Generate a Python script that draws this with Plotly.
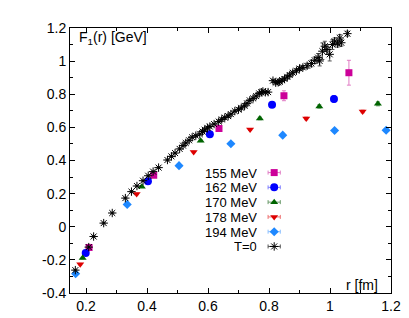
import plotly.graph_objects as go

# ---------------- data ----------------
r155 = [0.210, 0.422, 0.636, 0.849, 1.062]
f155 = [-0.125, 0.311, 0.593, 0.791, 0.930]
e155 = [0.010, 0.010, 0.012, 0.030, 0.075]

r162 = [0.199, 0.403, 0.606, 0.810, 1.013]
f162 = [-0.159, 0.275, 0.559, 0.736, 0.772]
e162 = [0.005, 0.006, 0.008, 0.010, 0.020]

r170 = [0.189, 0.383, 0.576, 0.770, 0.965, 1.157]
f170 = [-0.189, 0.242, 0.519, 0.654, 0.726, 0.742]
e170 = [0.005, 0.005, 0.005, 0.008, 0.010, 0.012]

r178 = [0.181, 0.366, 0.553, 0.738, 0.922, 1.107]
f178 = [-0.226, 0.198, 0.452, 0.587, 0.654, 0.696]
e178 = [0.005, 0.005, 0.005, 0.006, 0.008, 0.008]

r194 = [0.166, 0.335, 0.505, 0.675, 0.845, 1.015, 1.184]
f194 = [-0.284, 0.135, 0.369, 0.501, 0.553, 0.581, 0.583]
e194 = [0.005, 0.005, 0.005, 0.005, 0.006, 0.008, 0.008]

r0 = [0.165, 0.209, 0.225, 0.258, 0.286, 0.329, 0.349, 0.367, 0.387, 0.404,
      0.420, 0.438, 0.467, 0.480, 0.492, 0.507, 0.518, 0.527, 0.538, 0.548,
      0.560, 0.573, 0.582, 0.589, 0.598, 0.606, 0.620, 0.635, 0.645, 0.655,
      0.666, 0.675, 0.688, 0.700, 0.709, 0.720, 0.728, 0.737, 0.748, 0.758,
      0.768, 0.775, 0.780, 0.788, 0.797, 0.813, 0.822, 0.830, 0.835, 0.843,
      0.851, 0.860, 0.868, 0.878, 0.890, 0.900, 0.911, 0.925, 0.939, 0.950,
      0.961, 0.966, 0.975, 0.983, 0.990, 0.999, 1.008, 1.015, 1.025, 1.032,
      1.037, 1.057]
f0 = [-0.262, -0.123, -0.059, 0.022, 0.083, 0.173, 0.212, 0.246, 0.278, 0.308,
      0.333, 0.357, 0.403, 0.425, 0.445, 0.470, 0.490, 0.506, 0.522, 0.540,
      0.550, 0.559, 0.575, 0.585, 0.597, 0.605, 0.620, 0.635, 0.648, 0.659,
      0.668, 0.680, 0.698, 0.707, 0.718, 0.730, 0.745, 0.763, 0.775, 0.789,
      0.805, 0.812, 0.817, 0.812, 0.813, 0.882, 0.870, 0.872, 0.876, 0.885,
      0.892, 0.905, 0.916, 0.930, 0.942, 0.955, 0.962, 0.972, 0.986, 1.005,
      1.021, 1.001, 1.060, 1.090, 1.070, 1.041, 1.100, 1.120, 1.105, 1.140,
      1.111, 1.166]
e0 = [0.004] * 45 + [0.008] * 10 + [0.012, 0.012, 0.015, 0.02, 0.02,
                                      0.025, 0.03, 0.05, 0.03, 0.03, 0.04, 0.03,
                                      0.02, 0.02, 0.02, 0.02, 0.015]

labels = ["155 MeV", "162 MeV", "170 MeV", "178 MeV", "194 MeV", "T=0"]
x_ticks = [0.2, 0.4, 0.6, 0.8, 1, 1.2]
y_ticks = [-0.4, -0.2, 0, 0.2, 0.4, 0.6, 0.8, 1, 1.2]

# ---------------- styles ----------------
colors = ["#cc0099", "#0000ff", "#006400", "#dd0000", "#1e88ff", "#000000"]
err_colors = ["#e07cc4", "#8080ff", "#6a9a6a", "#ee7070", "#8cc0ff", "#555555"]
symbols = ["square", "circle", "triangle-up", "triangle-down", "diamond", "asterisk-open"]
sizes = [7, 8, 7, 7, 7, 7]

series = [(r155, f155, e155), (r162, f162, e162), (r170, f170, e170),
          (r178, f178, e178), (r194, f194, e194), (r0, f0, e0)]

fig = go.Figure()
FONT = "Liberation Sans, Arial, Helvetica, sans-serif"


def make_marker(i):
    m = dict(symbol=symbols[i], size=sizes[i], color=colors[i])
    if symbols[i] == "asterisk-open":
        m["line"] = dict(color=colors[i], width=1)
    else:
        m["line"] = dict(width=0)
    return m


for i, (xs, ys, es) in enumerate(series):
    fig.add_trace(go.Scatter(
        x=xs, y=ys, mode="markers", marker=make_marker(i), name=labels[i],
        error_y=dict(type="data", array=es, color=err_colors[i], thickness=1, width=2),
        showlegend=False))

# ---------------- manual legend (text left, key right) ----------------
leg_text_x = 0.765
leg_key_x = 0.817
leg_key_dx = 0.02
leg_top = 0.327
leg_step = 0.0892
for i, lab in enumerate(labels):
    yrow = leg_top - i * leg_step
    fig.add_annotation(x=leg_text_x, y=yrow, xref="x", yref="y",
                       text=lab, showarrow=False, xanchor="right", yanchor="middle",
                       height=12, borderpad=0,
                       font=dict(family=FONT, size=13, color="#000000"))
    fig.add_trace(go.Scatter(
        x=[leg_key_x], y=[yrow], mode="markers", marker=make_marker(i),
        error_x=dict(type="constant", value=leg_key_dx, color=err_colors[i], thickness=1, width=2),
        showlegend=False, hoverinfo="skip"))

fig.add_annotation(x=0.023, y=0.964, xref="paper", yref="paper",
                   text="F<sub>1</sub>(r) [GeV]", showarrow=False,
                   xanchor="left", yanchor="middle",
                   font=dict(family=FONT, size=14, color="#000000"))
fig.add_annotation(x=0.966, y=0.03, xref="paper", yref="paper",
                   text="r [fm]", showarrow=False,
                   xanchor="right", yanchor="middle",
                   font=dict(family=FONT, size=14, color="#000000"))

axis_common = dict(showgrid=False, zeroline=False, showline=True, linecolor="#000000",
                   linewidth=1, mirror="ticks", ticks="inside", ticklen=5,
                   tickcolor="#000000", tickwidth=1,
                   tickfont=dict(family=FONT, size=14, color="#000000"))

fig.update_xaxes(range=[0.1475, 1.2], tickvals=x_ticks,
                 ticktext=[("%g" % v) for v in x_ticks],
                 minor=dict(dtick=0.1, tick0=0, ticks="inside", ticklen=3,
                            tickcolor="#000000", showgrid=False),
                 **axis_common)
fig.update_yaxes(range=[-0.4, 1.2], tickvals=y_ticks,
                 ticktext=[("%g" % v) for v in y_ticks],
                 minor=dict(dtick=0.1, tick0=0, ticks="inside", ticklen=3,
                            tickcolor="#000000", showgrid=False),
                 **axis_common)

fig.update_layout(width=409, height=318, autosize=False,
                  margin=dict(l=62, r=26, t=18, b=31),
                  plot_bgcolor="#ffffff", paper_bgcolor="#ffffff",
                  showlegend=False)

fig.write_html("out.html")
